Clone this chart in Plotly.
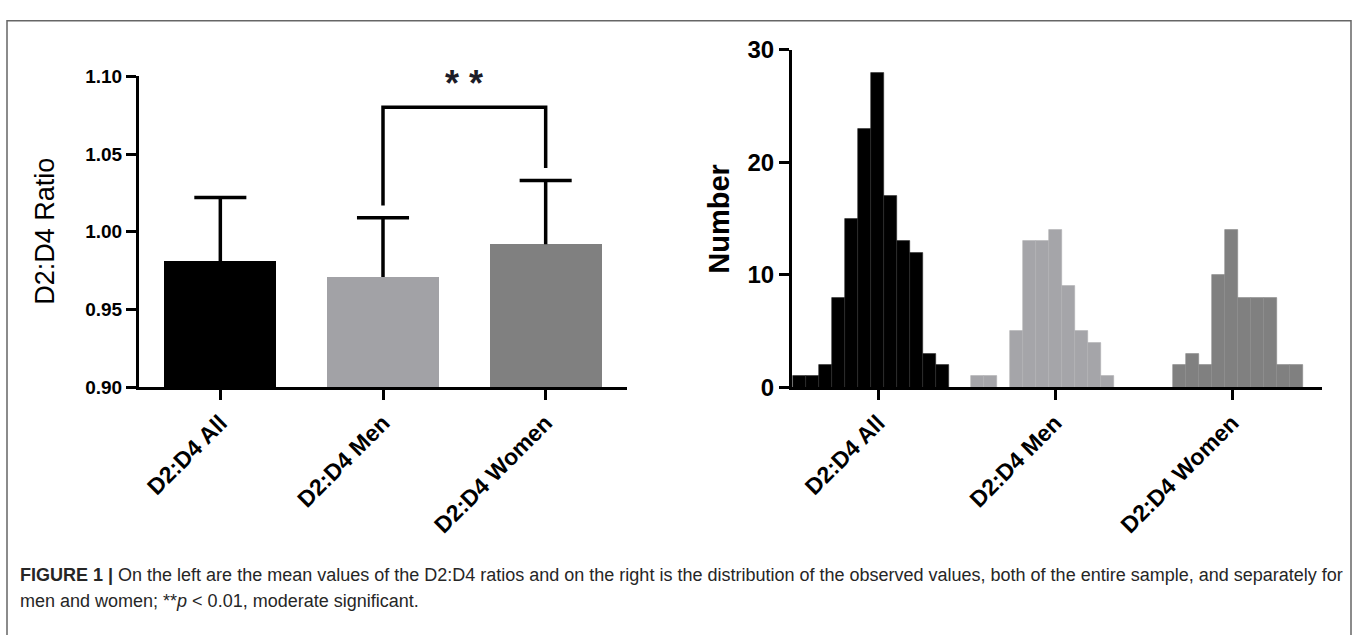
import plotly.graph_objects as go

# ---------------- data ----------------
groups = ["D2:D4 All", "D2:D4 Men", "D2:D4 Women"]
mean_ratio = [0.981, 0.971, 0.992]
sd_ratio = [0.041, 0.038, 0.041]
left_yticks = [0.90, 0.95, 1.00, 1.05, 1.10]

counts_all = [1, 1, 2, 8, 15, 23, 28, 17, 13, 12, 3, 2]
counts_men = [1, 1, 0, 5, 13, 13, 14, 9, 5, 4, 1]
counts_women = [2, 3, 2, 10, 14, 8, 8, 8, 2, 2]
right_yticks = [0, 10, 20, 30]

sig_label = "* *"
caption_1 = ("<b>FIGURE 1 |</b> On the left are the mean values of the D2:D4 ratios and on the right is the "
             "distribution of the observed values, both of the entire sample, and separately for")
caption_2 = "men and women; **<i>p</i> &lt; 0.01, moderate significant."

# ---------------- styles / layout ----------------
W, H = 1357, 635
FONT = "Liberation Sans, Arial, sans-serif"
bar_colors = ["#000000", "#a2a2a6", "#808080"]
hist_colors = ["#000000", "#a5a5a9", "#808080"]
hist_edge = ["#2a2a2a", "#b0b0b4", "#8a8a8a"]
hist_start = [-0.479, -0.473, -0.332]   # offset of first bin from category centre
bin_w = 0.0732
cap_half = 0.16
sig_gap = 0.008
bracket_rise = 0.047


def fx(px):
    return px / W


def fy(py):
    return 1 - py / H


fig = go.Figure()

# left: mean bars
fig.add_trace(go.Bar(
    x=list(range(len(groups))), y=mean_ratio, width=0.69,
    marker=dict(color=bar_colors, line=dict(width=0)),
    xaxis="x", yaxis="y", showlegend=False, hoverinfo="skip"))

# one-sided error bars (upper only)
ex, ey = [], []
for i, (m, s) in enumerate(zip(mean_ratio, sd_ratio)):
    ex += [i, i, None, i - cap_half, i + cap_half, None]
    ey += [m, m + s, None, m + s, m + s, None]
fig.add_trace(go.Scatter(x=ex, y=ey, mode="lines", line=dict(color="black", width=3.5),
                         xaxis="x", yaxis="y", showlegend=False, hoverinfo="skip"))

# significance bracket between Men and Women
tops = [m + s for m, s in zip(mean_ratio, sd_ratio)]
by = max(tops) + bracket_rise
fig.add_trace(go.Scatter(x=[1, 1, 2, 2], y=[tops[1] + sig_gap, by, by, tops[2] + sig_gap],
                         mode="lines", line=dict(color="black", width=3.5),
                         xaxis="x", yaxis="y", showlegend=False, hoverinfo="skip"))

# right: histograms
for g, counts in enumerate([counts_all, counts_men, counts_women]):
    xs = [g + hist_start[g] + (i + 0.5) * bin_w for i in range(len(counts))]
    fig.add_trace(go.Bar(
        x=xs, y=counts, width=bin_w,
        marker=dict(color=hist_colors[g], line=dict(color=hist_edge[g], width=0.6)),
        xaxis="x2", yaxis="y2", showlegend=False, hoverinfo="skip"))

axis_common = dict(showline=True, linewidth=3, linecolor="black", ticks="outside",
                   ticklen=10, tickwidth=3, tickcolor="black", showgrid=False,
                   zeroline=False, fixedrange=True)
xtickfont = dict(family=FONT, size=23, color="black", weight="bold")

fig.update_layout(
    width=W, height=H, margin=dict(l=0, r=0, t=0, b=0),
    paper_bgcolor="white", plot_bgcolor="white", bargap=0,
    font=dict(family=FONT, color="black"),
    xaxis=dict(domain=[fx(139), fx(627)], range=[-0.5, 2.5], tickvals=[0, 1, 2],
               ticktext=groups, tickangle=-45, tickfont=xtickfont, anchor="y", **axis_common),
    yaxis=dict(domain=[fy(390), fy(65)], range=[0.90, 1.10], tickvals=left_yticks,
               ticktext=["%.2f" % v for v in left_yticks], anchor="x",
               tickfont=dict(family=FONT, size=19, color="black", weight="bold"), **axis_common),
    xaxis2=dict(domain=[fx(792), fx(1322)], range=[-0.486, 2.508], tickvals=[0, 1, 2],
                ticktext=groups, tickangle=-45, tickfont=xtickfont, anchor="y2", **axis_common),
    yaxis2=dict(domain=[fy(390), fy(37.5)], range=[0, 30], tickvals=right_yticks,
                anchor="x2", tickfont=dict(family=FONT, size=24, color="black", weight="bold"),
                **axis_common),
)

annotations = [
    dict(text="D2:D4 Ratio", xref="paper", yref="paper", x=fx(45), y=(fy(390) + fy(65)) / 2,
         textangle=-90, showarrow=False, xanchor="center", yanchor="middle",
         font=dict(family=FONT, size=27, color="black")),
    dict(text="<b>Number</b>", xref="paper", yref="paper", x=fx(719), y=(fy(390) + fy(37.5)) / 2,
         textangle=-90, showarrow=False, xanchor="center", yanchor="middle",
         font=dict(family=FONT, size=29, color="black")),
    dict(text="<b>%s</b>" % sig_label, xref="x", yref="y", x=1.5, y=by, showarrow=False,
         xanchor="center", yanchor="bottom", yshift=1,
         font=dict(family=FONT, size=36, color="#1c1c28")),
    dict(text=caption_1, xref="paper", yref="paper", x=fx(18), y=fy(586), showarrow=False,
         xanchor="left", yanchor="middle", font=dict(family=FONT, size=18, color="#262626")),
    dict(text=caption_2, xref="paper", yref="paper", x=fx(18), y=fy(613), showarrow=False,
         xanchor="left", yanchor="middle", font=dict(family=FONT, size=18, color="#262626")),
]
fig.update_layout(annotations=annotations)

fig.add_shape(type="rect", xref="paper", yref="paper", x0=fx(7), x1=fx(1351),
              y0=-0.05, y1=fy(7), line=dict(color="#666666", width=1.5), layer="below")

fig.write_html("out.html", config={"displayModeBar": False},
               post_script="document.body.style.margin='0px';document.body.style.padding='0px';"
                           "document.body.style.overflow='hidden';")
